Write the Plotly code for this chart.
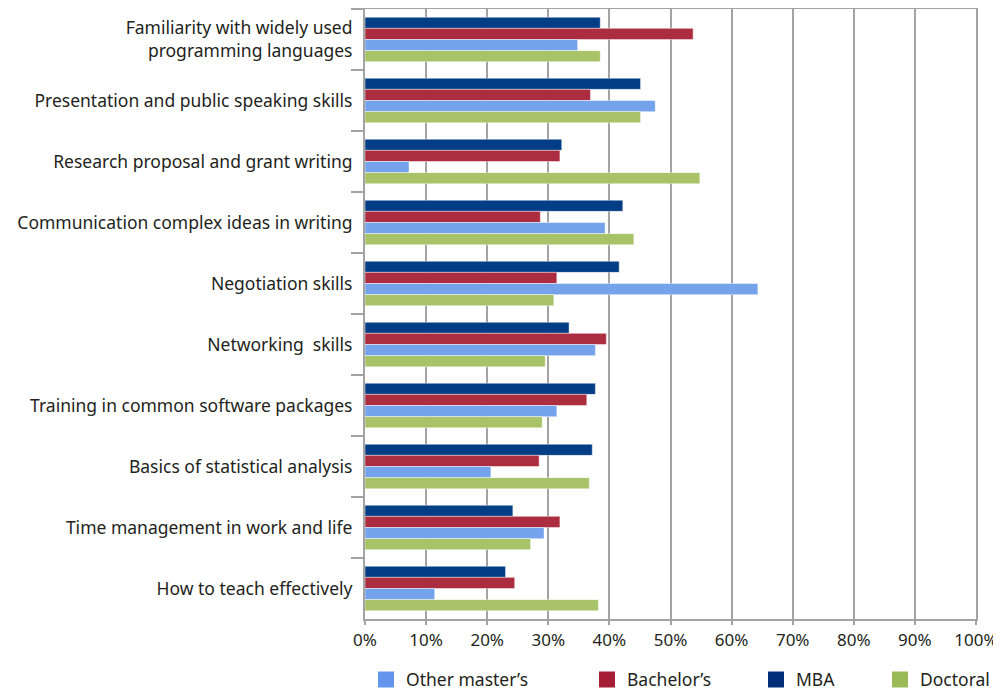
import plotly.graph_objects as go

categories = [
    "Familiarity with widely used<br>programming languages",
    "Presentation and public speaking skills",
    "Research proposal and grant writing",
    "Communication complex ideas in writing",
    "Negotiation skills",
    "Networking  skills",
    "Training in common software packages",
    "Basics of statistical analysis",
    "Time management in work and life",
    "How to teach effectively",
]

mba = [38.5, 45.1, 32.2, 42.2, 41.6, 33.4, 37.7, 37.2, 24.2, 23.0]
bachelors = [53.7, 36.9, 31.9, 28.7, 31.4, 39.5, 36.3, 28.5, 31.9, 24.5]
other_masters = [34.8, 47.5, 7.2, 39.3, 64.3, 37.7, 31.4, 20.6, 29.3, 11.4]
doctoral = [38.5, 45.1, 54.8, 44.0, 30.9, 29.5, 29.0, 36.7, 27.1, 38.2]

series = [
    ("MBA", mba, "#023d86", "#002f7a", "legend3"),
    ("Bachelor\u2019s", bachelors, "#ad2d40", "#a51e36", "legend2"),
    ("Other master\u2019s", other_masters, "#74a2eb", "#6495ed", "legend"),
    ("Doctoral", doctoral, "#a7c267", "#9bbb59", "legend4"),
]

fig = go.Figure()
for name, vals, color, lcolor, lg in series:
    fig.add_trace(go.Bar(
        y=categories, x=[v / 100 for v in vals], name=name, orientation="h",
        marker=dict(color=color, line=dict(color="rgba(255,255,255,0.45)", width=1)),
        showlegend=False,
    ))
    # legend entry (square key)
    fig.add_trace(go.Scatter(
        x=[None], y=[None], mode="markers", name=name,
        marker=dict(symbol="square", size=22, color=lcolor),
        legend=lg, showlegend=True, hoverinfo="skip",
    ))

font_family = "Noto Sans, Open Sans, sans-serif"
gray = "#a3a3a3"

# page body has an 8px margin: figure is 993x683 drawn at (8, 8)
W, H = 993, 683
PL, PR = 357, 968
PT, PB = 1, 611

legend_common = dict(orientation="h", yanchor="middle", y=(PB - 671.5) / (PB - PT),
                     xanchor="left",
                     font=dict(family=font_family, size=17.5, color="#231f20"),
                     bgcolor="rgba(0,0,0,0)", borderwidth=0, itemwidth=30,
                     itemsizing="trace", visible=True)

def lx(screen_px):
    return (screen_px - 8 - PL) / (PR - PL)

fig.update_layout(
    width=W, height=H,
    margin=dict(l=PL, r=W - PR, t=PT, b=H - PB, autoexpand=False),
    barmode="group", bargap=0.27, bargroupgap=0,
    plot_bgcolor="white", paper_bgcolor="white",
    showlegend=True,
    font=dict(family=font_family, size=18, color="#231f20"),
    legend=dict(x=lx(366), **legend_common),
    legend2=dict(x=lx(587), **legend_common),
    legend3=dict(x=lx(756), **legend_common),
    legend4=dict(x=lx(880), **legend_common),
    xaxis=dict(range=[0, 1], dtick=0.1, tick0=0, tickformat=".0%",
               showgrid=True, gridcolor=gray, gridwidth=2,
               showline=True, linecolor=gray, linewidth=2, mirror=True,
               ticks="outside", ticklen=4, tickcolor=gray, tickwidth=1.5,
               zeroline=False, tickfont=dict(size=17), ticklabelstandoff=1,
               automargin=False),
    yaxis=dict(autorange="reversed", showgrid=False,
               showline=True, linecolor=gray, linewidth=2, mirror=True,
               ticks="outside", ticklen=12, tickcolor=gray, tickwidth=1.5,
               tickson="boundaries", tickfont=dict(size=17.5), ticklabelstandoff=7,
               automargin=False),
)

fig.write_html("out.html")
